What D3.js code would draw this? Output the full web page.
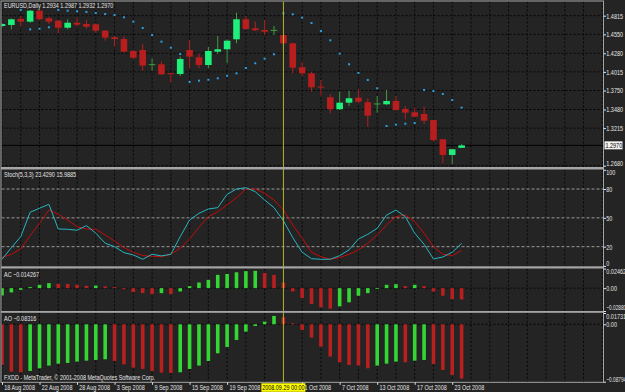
<!DOCTYPE html>
<html>
<head>
<meta charset="utf-8">
<script src="https://cdn.jsdelivr.net/npm/d3@7"></script>
<style>
  html, body { margin: 0; padding: 0; background: #242424; }
  svg { display: block; }
  text { font-family: "Liberation Sans", Arial, sans-serif; font-size: 7px; }
</style>
</head>
<body>
<svg id="chart" width="625" height="392"></svg>
<script>
const SYMBOL = 'EURUSD,Daily';
const DATES = [
  '2008-08-18', '2008-08-19', '2008-08-20', '2008-08-21', '2008-08-22',
  '2008-08-25', '2008-08-26', '2008-08-27', '2008-08-28', '2008-08-29',
  '2008-09-01', '2008-09-02', '2008-09-03', '2008-09-04', '2008-09-05',
  '2008-09-08', '2008-09-09', '2008-09-10', '2008-09-11', '2008-09-12',
  '2008-09-15', '2008-09-16', '2008-09-17', '2008-09-18', '2008-09-19',
  '2008-09-22', '2008-09-23', '2008-09-24', '2008-09-25', '2008-09-26',
  '2008-09-29', '2008-09-30', '2008-10-01', '2008-10-02', '2008-10-03',
  '2008-10-06', '2008-10-07', '2008-10-08', '2008-10-09', '2008-10-10',
  '2008-10-13', '2008-10-14', '2008-10-15', '2008-10-16', '2008-10-17',
  '2008-10-20', '2008-10-21', '2008-10-22', '2008-10-23', '2008-10-24',
];
const OPEN = [
  1.4668, 1.4683, 1.4768, 1.4730, 1.4886, 1.4778, 1.4744, 1.4644, 1.4715, 1.4697,
  1.4693, 1.4602, 1.4508, 1.4483, 1.4313, 1.4327, 1.4109, 1.4123, 1.3990, 1.3985,
  1.4327, 1.4223, 1.4113, 1.4303, 1.4337, 1.4479, 1.4764, 1.4636, 1.4612, 1.4597,
  1.4540, 1.4422, 1.4081, 1.3995, 1.3800, 1.3654, 1.3483, 1.3577, 1.3648, 1.3583,
  1.3550, 1.3554, 1.3601, 1.3487, 1.3440, 1.3416, 1.3331, 1.3056, 1.2833, 1.2934,
];
const HIGH = [
  1.4711, 1.4775, 1.4811, 1.4896, 1.4906, 1.4801, 1.4754, 1.4764, 1.4792, 1.4754,
  1.4707, 1.4612, 1.4526, 1.4526, 1.4327, 1.4412, 1.4209, 1.4160, 1.3995, 1.4232,
  1.4469, 1.4280, 1.4374, 1.4526, 1.4479, 1.4858, 1.4811, 1.4730, 1.4754, 1.4668,
  1.4547, 1.4431, 1.4156, 1.4018, 1.3900, 1.3697, 1.3734, 1.3748, 1.3768, 1.3640,
  1.3672, 1.3758, 1.3672, 1.3530, 1.3506, 1.3520, 1.3331, 1.3056, 1.2914, 1.2987,
];
const LOW = [
  1.4654, 1.4621, 1.4658, 1.4715, 1.4754, 1.4697, 1.4565, 1.4621, 1.4658, 1.4630,
  1.4573, 1.4459, 1.4374, 1.4291, 1.4195, 1.4032, 1.4032, 1.3971, 1.3862, 1.3957,
  1.4066, 1.4066, 1.4066, 1.4270, 1.4138, 1.4422, 1.4612, 1.4597, 1.4540, 1.4540,
  1.4419, 1.3995, 1.3957, 1.3734, 1.3677, 1.3426, 1.3473, 1.3530, 1.3568, 1.3235,
  1.3435, 1.3544, 1.3463, 1.3341, 1.3369, 1.3274, 1.3022, 1.2715, 1.2705, 1.2932,
];
const CLOSE = [
  1.4697, 1.4764, 1.4730, 1.4886, 1.4764, 1.4730, 1.4644, 1.4715, 1.4687, 1.4658,
  1.4602, 1.4502, 1.4483, 1.4303, 1.4217, 1.4104, 1.4118, 1.3981, 1.3981, 1.4199,
  1.4232, 1.4113, 1.4313, 1.4337, 1.4459, 1.4764, 1.4626, 1.4607, 1.4587, 1.4606,
  1.4422, 1.4075, 1.3995, 1.3796, 1.3792, 1.3483, 1.3577, 1.3640, 1.3591, 1.3392,
  1.3559, 1.3601, 1.3473, 1.3435, 1.3378, 1.3321, 1.3046, 1.2833, 1.2914, 1.2970,
];
// parabolic SAR
const SAR = [
  null, null, 1.4896, 1.4621, 1.4630, 1.4650, 1.4896, 1.4886, 1.4878, 1.4868,
  1.4853, 1.4839, 1.4825, 1.4792, 1.4730, 1.4640, 1.4540, 1.4445, 1.4360, 1.4270,
  1.3872, 1.3890, 1.3904, 1.3924, 1.3961, 1.3995, 1.4071, 1.4138, 1.4203, 1.4266,
  1.4849, 1.4835, 1.4787, 1.4711, 1.4597, 1.4465, 1.4274, 1.4124, 1.4000, 1.3900,
  1.3782, 1.3245, 1.3264, 1.3278, 1.3288, 1.3758, 1.3743, 1.3701, 1.3615, 1.3506,
];
const STOCH_MAIN = [
  6.9, 19.0, 30.4, 55.8, 60.0, 64.1, 38.4, 38.1, 37.1, 41.9,
  34.0, 23.6, 20.0, 13.8, 11.4, 6.9, 12.1, 10.4, 12.1, 30.4,
  47.8, 54.7, 59.2, 60.6, 74.5, 80.0, 81.4, 77.2, 68.6, 60.6,
  47.0, 29.4, 14.2, 7.5, 6.9, 6.9, 10.7, 16.7, 28.0, 32.9,
  39.1, 52.9, 58.1, 51.2, 34.0, 22.5, 7.2, 9.3, 14.2, 23.4290,
];
const STOCH_SIGNAL = [
  8.6, 12.1, 17.6, 31.5, 44.3, 58.2, 53.7, 47.8, 40.8, 38.4,
  38.1, 32.2, 25.9, 19.0, 14.2, 10.7, 10.0, 9.6, 12.1, 18.4,
  28.0, 40.2, 51.2, 56.4, 63.4, 71.0, 79.7, 80.0, 75.5, 68.6,
  58.2, 42.6, 29.0, 14.2, 9.6, 6.9, 8.6, 12.1, 16.6, 23.6,
  32.2, 42.6, 51.2, 53.0, 46.0, 34.0, 20.0, 12.1, 10.7, 15.9885,
];
const AC = [
  -0.0092, -0.0054, -0.0021, 0.0013, 0.0042, 0.0063, 0.0054, 0.0053, 0.0042, 0.0029,
  0.0033, 0.0021, 0.0013, -0.0013, -0.0050, -0.0063, -0.0075, -0.0063, -0.0075, -0.0042,
  0.0025, 0.0071, 0.0104, 0.0167, 0.0179, 0.0200, 0.0214, 0.0218, 0.0192, 0.0167,
  0.0071, -0.0042, -0.0125, -0.0200, -0.0242, -0.0259, -0.0229, -0.0179, -0.0096, -0.0063,
  -0.0004, 0.0042, 0.0050, 0.0025, 0.0042, 0.0025, -0.0042, -0.0096, -0.0138, -0.014267,
];
const AC_PREV = -0.0110; // bar before the first visible one
const AO = [
  -0.0623, -0.0725, -0.0735, -0.0715, -0.0674, -0.0633, -0.0603, -0.0592, -0.0572, -0.0557,
  -0.0546, -0.0536, -0.0562, -0.0613, -0.0664, -0.0684, -0.0715, -0.0741, -0.0746, -0.0735,
  -0.0684, -0.0633, -0.0562, -0.0444, -0.0347, -0.0240, -0.0112, -0.0026, 0.0041, 0.0128,
  0.0107, 0.0015, -0.0087, -0.0204, -0.0342, -0.0495, -0.0582, -0.0623, -0.0633, -0.0674,
  -0.0633, -0.0603, -0.0572, -0.0582, -0.0557, -0.0546, -0.0608, -0.0700, -0.0776, -0.08316,
];
const AO_PREV = -0.0580;

const PRICE_TICKS = [1.4815, 1.4550, 1.4280, 1.4015, 1.3750, 1.3480, 1.3215, 1.2680];
const STOCH_TICKS = [100, 80, 50, 20, 0];
const STOCH_LEVELS = [80, 50, 20];
const AC_TICKS = [0.02462, 0, -0.02880];
const AO_TICKS = [0.01731, 0, -0.08794];
const BID = 1.2970;
const CROSS_INDEX = 30;
const COPYRIGHT = 'FXDD - MetaTrader, \u00a9 2001-2008 MetaQuotes Software Corp.';

// colours
const BG = '#242424', BORDER = '#a6a6a6', GRID = '#060606', TEXT = '#e4e4e4';
const BULL = '#1ff07c', BULL_WICK = '#3f9d3f', BEAR = '#b91e1e';
const SAR_COLOR = '#2b9fe0';
const MAIN_COLOR = '#27b6c0', SIGNAL_COLOR = '#c40c0c';
const UP_BAR = '#33d633', DOWN_BAR = '#b81f1f';
const CROSS_COLOR = '#b9b92c';

const W = 625, H = 392;
const LEFT = 1.5, RIGHT = 603.5;
const SX = 0.78; // text is narrow in the screenshot

const P = {
  price: { top: 1.5, bottom: 167 },
  stoch: { top: 169.5, bottom: 266.3 },
  ac: { top: 268.5, bottom: 311 },
  ao: { top: 312.8, bottom: 382.3 },
};

const n = DATES.length;
const parse = d3.timeParse('%Y-%m-%d');
const fmtDate = d3.timeFormat('%-d %b %Y');
const fmtCross = d3.timeFormat('%Y.%m.%d %H:%M');

const x = d3.scaleLinear().domain([0, 64]).range([2, 602.3]);
const yPrice = d3.scaleLinear().domain([1.2680, 1.4815]).range([165.7, 15.7]);
const yStoch = d3.scaleLinear().domain([0, 100]).range([265.9, 169.8]);
const yAC = d3.scaleLinear().domain([AC_TICKS[2], AC_TICKS[0]]).range([311, 268.6]);
const yAO = d3.scaleLinear().domain([AO_TICKS[2], AO_TICKS[0]]).range([381.7, 313]);

const svg = d3.select('#chart');
svg.append('rect').attr('width', W).attr('height', H).attr('fill', BG);

svg.append('defs').append('clipPath').attr('id', 'plot')
  .append('rect')
  .attr('x', LEFT).attr('y', P.price.top)
  .attr('width', RIGHT - LEFT).attr('height', P.ao.bottom - P.price.top);

const plot = svg.append('g').attr('clip-path', 'url(#plot)');

function label(sel, px, py, str, anchor, fill) {
  return sel.append('text')
    .attr('transform', `translate(${px},${py}) scale(${SX},1)`)
    .attr('dy', '0.35em')
    .attr('text-anchor', anchor || 'start')
    .attr('fill', fill || TEXT)
    .text(str);
}

// vertical grid, every second bar, in each pane
const gridIdx = d3.range(0, 65, 2);
Object.values(P).forEach(p => {
  plot.append('g').selectAll('line')
    .data(gridIdx)
    .join('line')
    .attr('x1', d => x(d)).attr('x2', d => x(d))
    .attr('y1', p.top).attr('y2', p.bottom)
    .attr('stroke', GRID).attr('stroke-dasharray', '2,2');
});

// horizontal grid
plot.append('g').selectAll('line')
  .data(PRICE_TICKS)
  .join('line')
  .attr('x1', LEFT).attr('x2', RIGHT)
  .attr('y1', d => yPrice(d)).attr('y2', d => yPrice(d))
  .attr('stroke', GRID).attr('stroke-dasharray', '2,2');

plot.append('line')
  .attr('x1', LEFT).attr('x2', RIGHT)
  .attr('y1', yAC(0)).attr('y2', yAC(0))
  .attr('stroke', GRID).attr('stroke-dasharray', '2,2');

plot.append('line')
  .attr('x1', LEFT).attr('x2', RIGHT)
  .attr('y1', yAO(0)).attr('y2', yAO(0))
  .attr('stroke', GRID).attr('stroke-dasharray', '2,2');

plot.append('g').selectAll('line')
  .data(STOCH_LEVELS)
  .join('line')
  .attr('x1', LEFT).attr('x2', RIGHT)
  .attr('y1', d => yStoch(d)).attr('y2', d => yStoch(d))
  .attr('stroke', '#9a9a9a').attr('stroke-dasharray', '3,2');

// bid line
plot.append('line')
  .attr('x1', LEFT).attr('x2', RIGHT)
  .attr('y1', yPrice(BID)).attr('y2', yPrice(BID))
  .attr('stroke', '#000').attr('stroke-width', 1);

// candles
const bars = d3.range(n);
const isDoji = i => Math.abs(OPEN[i] - CLOSE[i]) < 0.0012;
const bull = i => CLOSE[i] >= OPEN[i];

const candles = plot.append('g');
candles.selectAll('line.wick')
  .data(bars)
  .join('line')
  .attr('class', 'wick')
  .attr('x1', i => x(i)).attr('x2', i => x(i))
  .attr('y1', i => yPrice(HIGH[i])).attr('y2', i => yPrice(LOW[i]))
  .attr('stroke', i => bull(i) ? BULL_WICK : BEAR);

candles.selectAll('rect')
  .data(bars)
  .join('rect')
  .attr('x', i => x(i) - 3.3)
  .attr('width', 6.6)
  .attr('y', i => yPrice(Math.max(OPEN[i], CLOSE[i])) - (isDoji(i) ? 0.5 : 0))
  .attr('height', i => Math.max(1, Math.abs(yPrice(OPEN[i]) - yPrice(CLOSE[i]))))
  .attr('fill', i => bull(i) ? (isDoji(i) ? BULL_WICK : BULL) : BEAR);

// parabolic SAR
plot.append('g').selectAll('rect')
  .data(bars.filter(i => SAR[i] != null))
  .join('rect')
  .attr('x', i => x(i) - 1).attr('y', i => yPrice(SAR[i]) - 1)
  .attr('width', 2).attr('height', 2)
  .attr('fill', SAR_COLOR);

// stochastic
const stochLine = arr => d3.line().x(i => x(i)).y(i => yStoch(arr[i]))(bars);
plot.append('path')
  .attr('d', stochLine(STOCH_SIGNAL))
  .attr('fill', 'none').attr('stroke', SIGNAL_COLOR).attr('stroke-width', 1);
plot.append('path')
  .attr('d', stochLine(STOCH_MAIN))
  .attr('fill', 'none').attr('stroke', MAIN_COLOR).attr('stroke-width', 1);

// AC / AO histograms, green when rising
function histogram(vals, prev, y) {
  plot.append('g').selectAll('rect')
    .data(bars)
    .join('rect')
    .attr('x', i => x(i) - 1.8)
    .attr('width', 3.6)
    .attr('y', i => Math.min(y(0), y(vals[i])))
    .attr('height', i => Math.max(0.8, Math.abs(y(vals[i]) - y(0))))
    .attr('fill', i => vals[i] > (i ? vals[i - 1] : prev) ? UP_BAR : DOWN_BAR);
}
histogram(AC, AC_PREV, yAC);
histogram(AO, AO_PREV, yAO);

// crosshair
const crossX = x(CROSS_INDEX);
svg.append('line')
  .attr('x1', crossX).attr('x2', crossX)
  .attr('y1', P.price.top).attr('y2', P.ao.bottom)
  .attr('stroke', CROSS_COLOR).attr('stroke-width', 1);

// pane borders and separators
svg.append('rect')
  .attr('x', 1).attr('y', 1)
  .attr('width', RIGHT - 1).attr('height', P.ao.bottom - 1)
  .attr('fill', 'none').attr('stroke', BORDER);
[[P.price.bottom, P.stoch.top], [P.stoch.bottom, P.ac.top], [P.ac.bottom, P.ao.top]]
  .forEach(([a, b]) => {
    svg.append('rect')
      .attr('x', 1).attr('y', a)
      .attr('width', RIGHT - 1).attr('height', b - a)
      .attr('fill', BORDER);
  });

// right axes; long labels squeezed a bit more so they stay inside the window
function rightAxis(scale, values, fmt, p) {
  const g = svg.append('g')
    .attr('transform', `translate(${RIGHT},0)`)
    .call(d3.axisRight(scale).tickValues(values).tickFormat(fmt).tickSize(2.5));
  g.select('.domain').remove();
  g.attr('font-size', null).attr('font-family', null);
  g.selectAll('line').attr('stroke', TEXT);
  g.selectAll('text')
    .attr('fill', TEXT)
    .attr('dy', '0.35em')
    .attr('y', d => Math.min(Math.max(scale(d), p.top + 3), p.bottom - 3.5) - scale(d))
    .each(function (d) {
      const s = fmt(d).length > 7 ? 0.68 : SX;
      d3.select(this).attr('x', 2.8 / s).attr('transform', `scale(${s},1)`);
    });
  return g;
}
rightAxis(yPrice, PRICE_TICKS, d3.format('.4f'), P.price);
rightAxis(yStoch, STOCH_TICKS, d3.format('d'), P.stoch);
rightAxis(yAC, AC_TICKS, d => d === 0 ? '0.00' : d3.format('.5f')(d), P.ac);
rightAxis(yAO, AO_TICKS, d => d === 0 ? '0.00' : d3.format('.5f')(d), P.ao);

// bid price box
svg.append('rect')
  .attr('x', 604.5).attr('y', yPrice(BID) - 4)
  .attr('width', 18).attr('height', 8)
  .attr('fill', '#f2f2f2');
label(svg, 605.5, yPrice(BID), d3.format('.4f')(BID), 'start', '#000');

// time axis; the label hidden under the crosshair box is left out
const timeTicks = d3.range(0, n, 4).filter(i => x(i) < crossX - 22 || x(i) > crossX);
const xAxis = svg.append('g')
  .attr('transform', `translate(0,${P.ao.bottom})`)
  .call(d3.axisBottom(x)
    .tickValues(timeTicks)
    .tickFormat(i => fmtDate(parse(DATES[i])))
    .tickSize(2.5));
xAxis.select('.domain').remove();
xAxis.attr('font-size', null).attr('font-family', null);
xAxis.selectAll('line').attr('stroke', TEXT);
xAxis.selectAll('text')
  .attr('fill', TEXT)
  .attr('text-anchor', 'start')
  .attr('y', 5.3).attr('dy', '0.35em')
  .attr('transform', `translate(1.8,0) scale(${SX},1)`);

// crosshair time box
svg.append('rect')
  .attr('x', crossX - 22).attr('y', P.ao.bottom + 1)
  .attr('width', 44).attr('height', 8.5)
  .attr('fill', '#ffff00');
label(svg, crossX, P.ao.bottom + 5.3, fmtCross(parse(DATES[CROSS_INDEX])), 'middle', '#000');

// pane captions
const f4 = d3.format('.4f');
label(svg, 4, 6, `${SYMBOL}  ${f4(OPEN[n - 1])} ${f4(HIGH[n - 1])} ${f4(LOW[n - 1])} ${f4(CLOSE[n - 1])}`);
label(svg, 4, 175, `Stoch(5,3,3) ${f4(STOCH_MAIN[n - 1])} ${f4(STOCH_SIGNAL[n - 1])}`);
label(svg, 4, 274.3, `AC ${d3.format('.6f')(AC[n - 1])}`);
label(svg, 4, 318.3, `AO ${d3.format('.5f')(AO[n - 1])}`);
label(svg, 4, 377.3, COPYRIGHT);
</script>
</body>
</html>
